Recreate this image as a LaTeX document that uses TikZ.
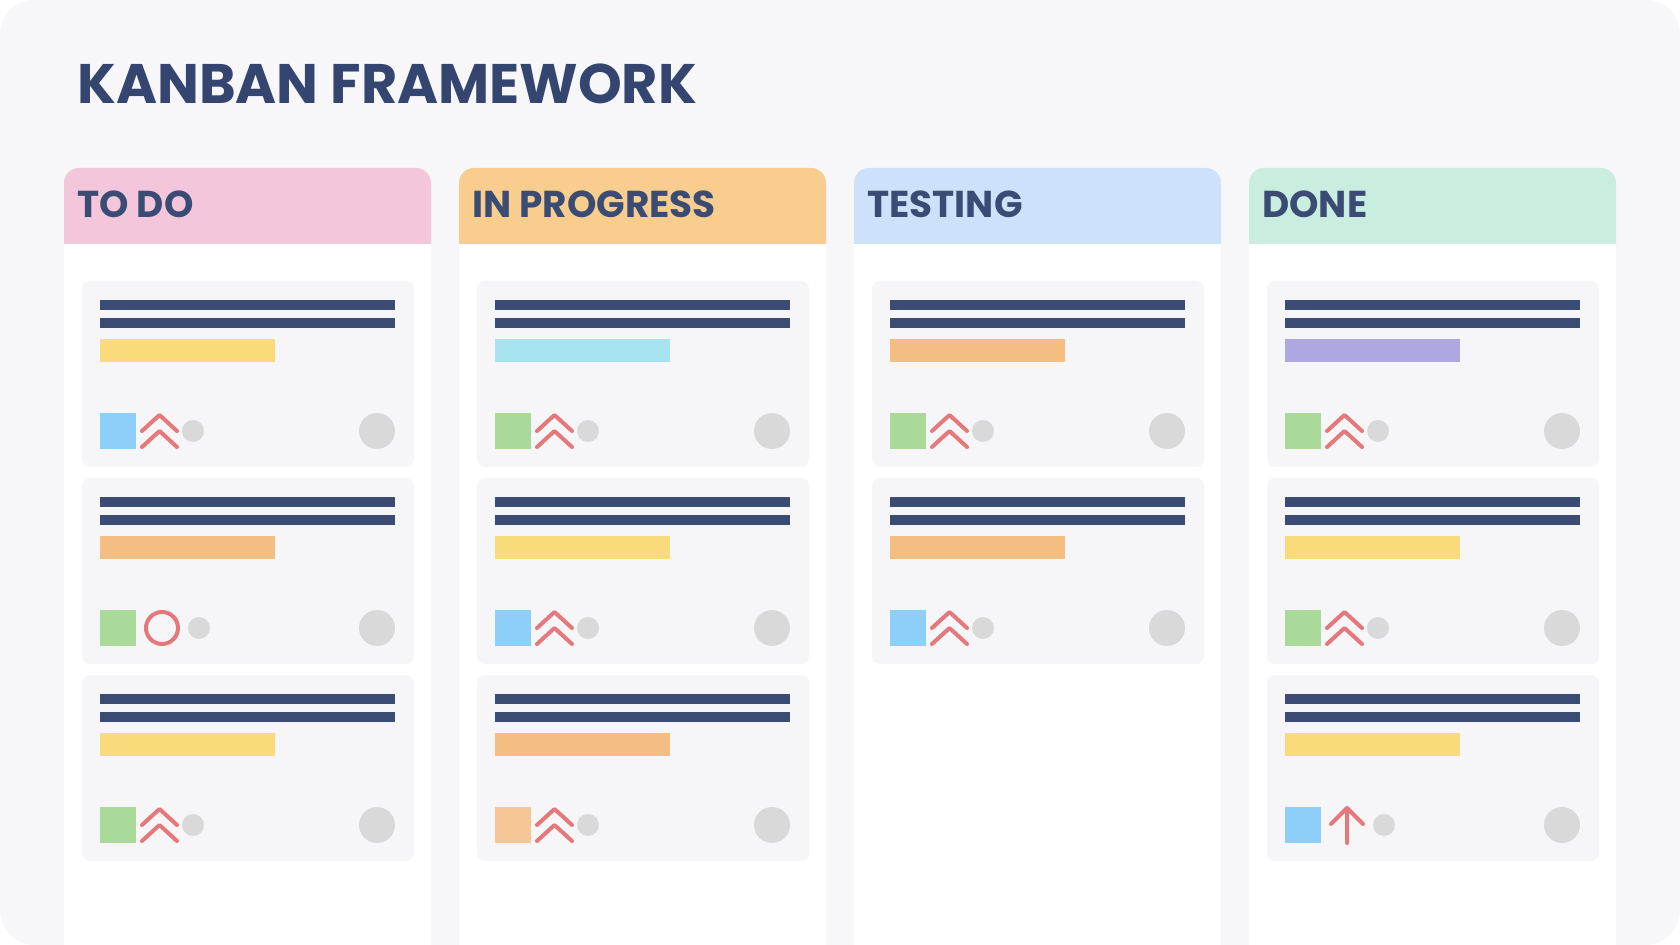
\documentclass[tikz,border=0pt]{standalone}
\usepackage{fontspec}
\setmainfont{Poppins}
\usetikzlibrary{positioning}

\definecolor{boardbg}{HTML}{F7F7F9}
\definecolor{cardbg}{HTML}{F6F6F8}
\definecolor{navy}{HTML}{3B4C74}
\definecolor{titlenavy}{HTML}{34466F}
\definecolor{todopink}{HTML}{F4C6DC}
\definecolor{progorange}{HTML}{F9CD8D}
\definecolor{testblue}{HTML}{CDE2FA}
\definecolor{donegreen}{HTML}{C9EEDF}
\definecolor{baryellow}{HTML}{FADB7B}
\definecolor{barcyan}{HTML}{A7E3EE}
\definecolor{barorange}{HTML}{F4BD82}
\definecolor{barpurple}{HTML}{AFA8E0}
\definecolor{sqblue}{HTML}{8ECFFA}
\definecolor{sqgreen}{HTML}{A9DA9A}
\definecolor{sqpeach}{HTML}{F7C697}
\definecolor{dotgray}{HTML}{D9D9D9}
\definecolor{iconred}{HTML}{E5787A}

\tikzset{
  cardbox/.style={fill=cardbg, rounded corners=0.16cm},
  textline/.style={fill=navy},
  redicon/.style={draw=iconred, line width=0.08cm, line cap=round, line join=round},
  colhead/.style={anchor=base west, inner sep=0pt, text=navy,
    font=\bfseries\fontsize{21.3}{24}\selectfont},
  titletext/.style={anchor=base west, inner sep=0pt, text=titlenavy,
    font=\bfseries\fontsize{31.7}{36}\selectfont}
}

% icons, in card coordinates
\newcommand{\kchev}{\draw[redicon] (60,150) -- (77.5,134) -- (95,150) (60,166) -- (77.5,150) -- (95,166);
  \fill[dotgray] (111,150) circle (0.22cm);}
\newcommand{\kring}{\draw[redicon] (80,150) circle (0.32cm);
  \fill[dotgray] (117,150) circle (0.22cm);}
\newcommand{\karrow}{\draw[redicon] (80,168) -- (80,133) (64,149) -- (80,133) -- (96,149);
  \fill[dotgray] (117,150) circle (0.22cm);}

% one card: column, row, bar colour, square colour, icon
\newcommand{\kcard}[5]{%
  \begin{scope}[shift={(82+395*#1,281+197*#2)}]
    \fill[cardbox] (0,0) rectangle (332,186);
    \fill[textline] (18,19) rectangle (313,29);
    \fill[textline] (18,37) rectangle (313,47);
    \fill[#3] (18,58) rectangle (193,81);
    \fill[#4] (18,132) rectangle (54,168);
    #5
    \fill[dotgray] (295,150) circle (0.36cm);
  \end{scope}}

\begin{document}
\begin{tikzpicture}[x=0.02cm, y=-0.02cm]
    \useasboundingbox (0,0) rectangle (1680,945);
    \fill[white] (0,0) rectangle (1680,945);
    \fill[boardbg, rounded corners=0.7cm] (0,0) rectangle (1680,945);

    \node[titletext] (title) at (77,104) {KANBAN FRAMEWORK};

    \foreach \c/\lbl/\hcol in {0/TO DO/todopink, 1/IN PROGRESS/progorange, 2/TESTING/testblue, 3/DONE/donegreen}{
        \fill[\hcol, rounded corners=0.3cm] (64+395*\c,260) rectangle (431+395*\c,168);
        \fill[white] (64+395*\c,244) rectangle (431+395*\c,945);
        \node[colhead] (head\c) at (77+395*\c,218) {\lbl};
    }

    \kcard{0}{0}{baryellow}{sqblue}{\kchev}
    \kcard{0}{1}{barorange}{sqgreen}{\kring}
    \kcard{0}{2}{baryellow}{sqgreen}{\kchev}
    \kcard{1}{0}{barcyan}{sqgreen}{\kchev}
    \kcard{1}{1}{baryellow}{sqblue}{\kchev}
    \kcard{1}{2}{barorange}{sqpeach}{\kchev}
    \kcard{2}{0}{barorange}{sqgreen}{\kchev}
    \kcard{2}{1}{barorange}{sqblue}{\kchev}
    \kcard{3}{0}{barpurple}{sqgreen}{\kchev}
    \kcard{3}{1}{baryellow}{sqgreen}{\kchev}
    \kcard{3}{2}{baryellow}{sqblue}{\karrow}
\end{tikzpicture}
\end{document}
